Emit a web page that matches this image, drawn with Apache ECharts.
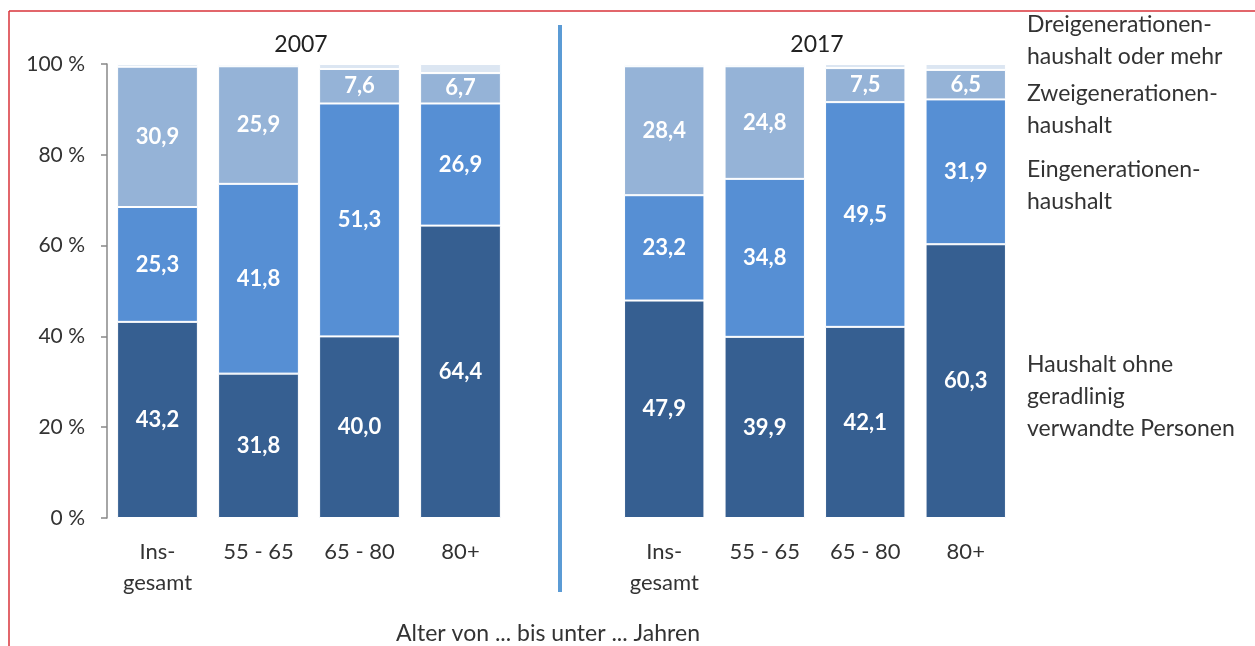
<!DOCTYPE html>
<html>
<head>
<meta charset="utf-8">
<script src="https://cdn.jsdelivr.net/npm/echarts@6/dist/echarts.min.js"></script>
<style>
  html, body { margin: 0; padding: 0; background: #fff; }
  #main { width: 1255px; height: 646px; }
</style>
</head>
<body>
<div id="main"></div>
<script>
// categories and values
var categories = ['Ins-\ngesamt', '55 - 65', '65 - 80', '80+']
var years = ['2007', '2017']
var seriesNames = ['Haushalt ohne geradlinig verwandte Personen', 'Eingenerationenhaushalt', 'Zweigenerationenhaushalt', 'Dreigenerationenhaushalt oder mehr']

var ohne2007 = [43.2, 31.8, 40.0, 64.4]
var ein2007 = [25.3, 41.8, 51.3, 26.9]
var zwei2007 = [30.9, 25.9, 7.6, 6.7]
var drei2007 = [0.6, 0.5, 1.1, 2.0]

var ohne2017 = [47.9, 39.9, 42.1, 60.3]
var ein2017 = [23.2, 34.8, 49.5, 31.9]
var zwei2017 = [28.4, 24.8, 7.5, 6.5]
var drei2017 = [0.5, 0.5, 0.9, 1.3]

var yTicks = [0, 20, 40, 60, 80, 100]

var colors = ['#365f91', '#568fd4', '#95b3d7', '#dce6f2']
var FONT = 'Lato, "Open Sans", sans-serif'

var chart = echarts.init(document.getElementById('main'))

function makeSeries(idx, grid, data, showLabel) {
  return {
    name: seriesNames[idx],
    type: 'bar',
    stack: 'g' + grid,
    xAxisIndex: grid,
    yAxisIndex: grid,
    barCategoryGap: '20%',
    itemStyle: { color: colors[idx], borderColor: '#fff', borderWidth: 1 },
    label: {
      show: showLabel,
      position: 'inside',
      color: '#fff',
      fontFamily: FONT,
      fontWeight: 'bold',
      fontSize: 22,
      formatter: function (p) { return p.value.toFixed(1).replace('.', ',') }
    },
    data: data
  }
}

function xAxis(grid) {
  return {
    type: 'category',
    gridIndex: grid,
    data: categories,
    axisLine: { show: false },
    axisTick: { show: false },
    axisLabel: { color: '#333', fontFamily: FONT, fontSize: 22, lineHeight: 31, margin: 18 }
  }
}

function yAxis(grid, visible) {
  return {
    type: 'value',
    gridIndex: grid,
    min: 0,
    max: 100,
    interval: 20,
    show: visible,
    splitLine: { show: false },
    axisLine: { show: true, lineStyle: { color: '#888', width: 1.5 } },
    axisTick: { show: true, length: 6, lineStyle: { color: '#888', width: 1.5 } },
    axisLabel: {
      color: '#333', fontFamily: FONT, fontSize: 21, margin: 22,
      formatter: function (v) { return yTicks.indexOf(v) >= 0 ? v + ' %' : '' }
    }
  }
}

function legendText(y, text) {
  return {
    type: 'text', left: 1027, top: y,
    style: { text: text, fill: '#333', font: '23px ' + FONT, lineHeight: 32 }
  }
}

var titleStyle = { fontFamily: FONT, fontSize: 23, fontWeight: 'normal', color: '#222' }

chart.setOption({
  animation: false,
  grid: [
    { left: 107, top: 64, width: 404, height: 454 },
    { left: 614, top: 64, width: 402, height: 454 }
  ],
  title: [
    { text: years[0], left: 296, top: 28, textAlign: 'center', textStyle: titleStyle },
    { text: years[1], left: 812, top: 28, textAlign: 'center', textStyle: titleStyle },
    { text: 'Alter von ... bis unter ... Jahren', left: 543, top: 617, textAlign: 'center', textStyle: { fontFamily: FONT, fontSize: 23, fontWeight: 'normal', color: '#333' } }
  ],
  xAxis: [xAxis(0), xAxis(1)],
  yAxis: [yAxis(0, true), yAxis(1, false)],
  series: [
    makeSeries(0, 0, ohne2007, true),
    makeSeries(1, 0, ein2007, true),
    makeSeries(2, 0, zwei2007, true),
    makeSeries(3, 0, drei2007, false),
    makeSeries(0, 1, ohne2017, true),
    makeSeries(1, 1, ein2017, true),
    makeSeries(2, 1, zwei2017, true),
    makeSeries(3, 1, drei2017, false)
  ],
  graphic: [
    // frame lines
    { type: 'line', shape: { x1: 9, y1: 11, x2: 1255, y2: 11 }, style: { stroke: '#d9333a', lineWidth: 1.5 } },
    { type: 'line', shape: { x1: 9, y1: 11, x2: 9, y2: 646 }, style: { stroke: '#d9333a', lineWidth: 1.5 } },
    // divider between years
    { type: 'line', shape: { x1: 560, y1: 25, x2: 560, y2: 592 }, style: { stroke: '#5b9bd5', lineWidth: 4 } },
    legendText(9, 'Dreigenerationen-\nhaushalt oder mehr'),
    legendText(78, 'Zweigenerationen-\nhaushalt'),
    legendText(154, 'Eingenerationen-\nhaushalt'),
    legendText(349, 'Haushalt ohne\ngeradlinig\nverwandte Personen')
  ]
})
</script>
</body>
</html>
